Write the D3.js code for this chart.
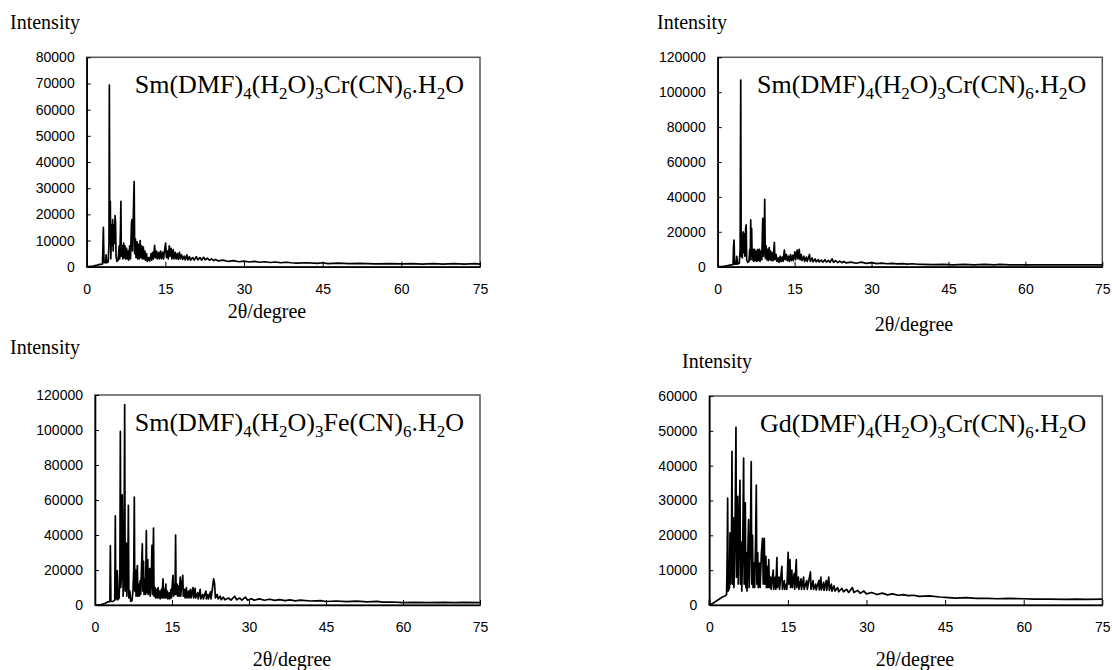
<!DOCTYPE html>
<html>
<head>
<meta charset="utf-8">
<script src="https://cdn.jsdelivr.net/npm/d3@7"></script>
<style>
body { margin: 0; background: #fff; }
svg { display: block; }
</style>
</head>
<body>
<svg id="chart" width="1112" height="670"></svg>
<script>
// 2theta axis ticks, shared by all four patterns
const thetaTicks = [0, 15, 30, 45, 60, 75]

// intensity ticks per panel
const ticksSmCrA = [0, 10000, 20000, 30000, 40000, 50000, 60000, 70000, 80000]
const ticksSmCrB = [0, 20000, 40000, 60000, 80000, 100000, 120000]
const ticksSmFe = [0, 20000, 40000, 60000, 80000, 100000, 120000]
const ticksGdCr = [0, 10000, 20000, 30000, 40000, 50000, 60000]

// titles, [text, isSubscript]
const titleSmCr = [["Sm(DMF)",0],["4",1],["(H",0],["2",1],["O)",0],["3",1],["Cr(CN)",0],["6",1],[".H",0],["2",1],["O",0]]
const titleSmFe = [["Sm(DMF)",0],["4",1],["(H",0],["2",1],["O)",0],["3",1],["Fe(CN)",0],["6",1],[".H",0],["2",1],["O",0]]
const titleGdCr = [["Gd(DMF)",0],["4",1],["(H",0],["2",1],["O)",0],["3",1],["Cr(CN)",0],["6",1],[".H",0],["2",1],["O",0]]

// patterns, [2theta, counts]
const smCrA = [[0,0],[0.5,0],[1.2,200],[2.0,600],[2.5,900],[3.0,1000],[3.1,8000],[3.18,15000],[3.3,1500],[3.6,1500],[3.7,4500],[3.8,1500],[4.1,1800],[4.25,9000],[4.32,69400],[4.4,9000],[4.5,25000],[4.6,3000],[4.75,16000],[4.85,8000],[4.95,18000],[5.05,6000],[5.2,16000],[5.3,9000],[5.4,19500],[5.5,17000],[5.6,4000],[5.75,2000],[6.0,2500],[6.2,8000],[6.3,3000],[6.45,15000],[6.52,25000],[6.6,4000],[6.8,8000],[6.9,3000],[7.05,9000],[7.15,3500],[7.3,8000],[7.4,3000],[7.6,7000],[7.7,3000],[7.9,6000],[8.0,2500],[8.2,8000],[8.35,3000],[8.55,17000],[8.65,18000],[8.75,6000],[8.9,20000],[9.05,32500],[9.15,5000],[9.3,10500],[9.4,3500],[9.6,9500],[9.7,3000],[9.9,8500],[10.0,3000],[10.2,10000],[10.3,3500],[10.5,8000],[10.6,3000],[10.8,7500],[10.9,3000],[11.1,6000],[11.2,2500],[11.4,5000],[11.55,2000],[11.8,3500],[12.0,2200],[12.3,5000],[12.4,2500],[12.6,5500],[12.75,3000],[12.95,8200],[13.1,3500],[13.3,6000],[13.45,3000],[13.7,5500],[13.85,3000],[14.1,6000],[14.25,3000],[14.5,5500],[14.65,3000],[14.9,7000],[15.05,9000],[15.2,3500],[15.4,6000],[15.55,3000],[15.75,8000],[15.9,4000],[16.1,7000],[16.25,3000],[16.5,6500],[16.65,3000],[16.9,5500],[17.05,3000],[17.3,5000],[17.45,2800],[17.7,5500],[17.85,3000],[18.1,4500],[18.3,2800],[18.6,4000],[18.8,2600],[19.1,4500],[19.3,2600],[19.6,3800],[19.8,2500],[20.2,3500],[20.5,2500],[20.9,3800],[21.2,2600],[21.6,3500],[21.9,2500],[22.3,3600],[22.6,2600],[23.0,3300],[23.4,2500],[23.8,3000],[24.2,2300],[24.6,2800],[25,2200],[26,2500],[27,2000],[28,2300],[29,1900],[30,2100],[31,1800],[32,2000],[33,1700],[34,1900],[35,1600],[36,1800],[37,1500],[38,1700],[39,1500],[40,1400],[42,1500],[44,1300],[45,1500],[46,1200],[48,1400],[50,1200],[52,1300],[55,1100],[58,1200],[60,1100],[62,1200],[64,1000],[66,1200],[68,1000],[70,1200],[72,1000],[74,1200],[75,1000]]

const smCrB = [[0,0],[0.5,0],[1.2,200],[2.0,700],[2.6,1000],[3.0,1200],[3.08,11000],[3.19,15300],[3.3,1500],[3.6,1500],[3.72,6000],[3.85,1500],[4.2,2000],[4.38,10000],[4.49,107000],[4.58,6000],[4.7,18000],[4.8,5000],[4.95,20000],[5.05,8000],[5.2,19000],[5.3,6000],[5.45,22000],[5.55,24000],[5.65,4000],[5.85,2500],[6.1,3000],[6.25,10000],[6.35,4000],[6.44,26800],[6.52,6000],[6.62,22000],[6.72,4000],[6.9,10000],[7.0,3000],[7.2,10000],[7.3,3500],[7.5,9000],[7.6,3000],[7.8,10000],[7.9,3500],[8.15,10000],[8.25,3000],[8.5,9000],[8.6,4000],[8.78,27700],[8.9,6000],[9.05,14000],[9.17,38600],[9.28,5000],[9.45,12000],[9.55,4000],[9.75,10000],[9.85,3500],[10.05,11000],[10.15,4000],[10.35,9000],[10.45,3500],[10.7,8000],[10.8,3500],[11.05,14000],[11.15,4000],[11.4,7000],[11.55,3000],[11.8,5000],[11.95,2500],[12.2,6000],[12.35,3000],[12.6,5500],[12.75,3000],[13.0,9500],[13.15,4000],[13.4,7000],[13.55,3500],[13.8,6000],[13.95,3000],[14.2,7000],[14.35,3500],[14.6,6500],[14.75,3500],[15.05,8500],[15.2,4000],[15.5,9500],[15.65,4500],[15.9,10000],[16.05,4000],[16.3,7000],[16.45,3500],[16.8,6000],[16.95,3000],[17.3,5500],[17.45,3000],[17.9,7000],[18.05,3000],[18.4,5000],[18.6,2800],[19.0,4500],[19.2,2800],[19.6,4000],[19.8,2700],[20.2,3800],[20.5,2600],[20.9,4000],[21.2,2600],[21.6,3600],[21.9,2500],[22.3,4500],[22.6,2500],[23.0,3500],[23.4,2400],[23.8,3200],[24.2,2300],[24.6,3000],[25,2200],[26,2600],[27,2000],[28,2600],[29,1900],[30,2300],[31,1800],[32,2000],[33,1700],[34,1900],[35,1600],[36,1800],[37,1500],[38,1700],[39,1400],[40,1300],[42,1200],[44,1300],[46,1100],[48,1300],[50,1100],[52,1300],[54,1000],[55,1300],[57,1100],[60,1100],[62,1000],[65,1100],[68,1000],[70,1100],[72,1000],[75,1100]]

const smFe = [[0,0],[0.5,0],[1.2,300],[2.0,1000],[2.5,1800],[2.9,2000],[2.99,33900],[3.1,2000],[3.5,2000],[3.85,3000],[3.96,51000],[4.05,3000],[4.25,5000],[4.35,19600],[4.45,3000],[4.7,4000],[4.85,20000],[4.94,99200],[5.03,10000],[5.2,20000],[5.3,63000],[5.39,40000],[5.48,5000],[5.65,20000],[5.78,114500],[5.88,8000],[6.0,30000],[6.1,35400],[6.2,5000],[6.4,20000],[6.5,57000],[6.6,4000],[6.8,8000],[6.95,2000],[7.2,2500],[7.4,8000],[7.55,20000],[7.66,61700],[7.75,8000],[7.9,20000],[8.0,5000],[8.15,15000],[8.25,22500],[8.35,5000],[8.55,12000],[8.65,5000],[8.8,14000],[8.9,6000],[9.05,20000],[9.22,34900],[9.3,8000],[9.45,25000],[9.55,6000],[9.75,15000],[9.85,6000],[10.0,42500],[10.1,7000],[10.28,26000],[10.38,6000],[10.55,12000],[10.65,20800],[10.75,5000],[10.95,15000],[11.1,34100],[11.2,6000],[11.4,44000],[11.5,5000],[11.7,10000],[11.8,4000],[12.0,9000],[12.1,4000],[12.3,10000],[12.4,4000],[12.6,8000],[12.7,3500],[12.95,9000],[13.05,4000],[13.25,14900],[13.35,4000],[13.55,9000],[13.65,4000],[13.8,12000],[13.9,4000],[14.1,8000],[14.2,3500],[14.45,7000],[14.55,3500],[14.8,9000],[14.9,4000],[15.1,14000],[15.2,17000],[15.3,5000],[15.5,12000],[15.6,6000],[15.7,40000],[15.8,6000],[16.0,12000],[16.1,5000],[16.3,11000],[16.4,5000],[16.6,16000],[16.7,5000],[16.9,12000],[17.1,17000],[17.2,5000],[17.45,9000],[17.55,4000],[17.8,10000],[17.9,4000],[18.2,8000],[18.3,4000],[18.6,9000],[18.7,4000],[19.1,10000],[19.2,4000],[19.5,9500],[19.6,4000],[20.0,7000],[20.1,3500],[20.5,9000],[20.6,3500],[21.0,6000],[21.1,3500],[21.6,8000],[21.7,3500],[22.0,6000],[22.1,3500],[22.5,7500],[22.6,3500],[22.9,10000],[23.1,15000],[23.3,12000],[23.45,4000],[23.8,6000],[24.0,3500],[24.4,5000],[24.6,3000],[25.0,4500],[25.3,3000],[26,4000],[26.5,2800],[27.2,5000],[27.6,3000],[28.2,4000],[28.6,2800],[29.3,4500],[29.7,2800],[30.5,3600],[31,2700],[32,3500],[33,2700],[34,3300],[35,2600],[36,3100],[37,2500],[38,2900],[39,2400],[40,2800],[42,2300],[44,2500],[45,2000],[47,2300],[49,1900],[51,2200],[53,1800],[55,2100],[56,1600],[58,1700],[60,1400],[62,1500],[65,1400],[68,1500],[70,1400],[72,1500],[75,1400]]

const gdCr = [[0,0],[0.05,1500],[0.1,200],[0.5,300],[1.0,800],[1.5,1300],[2.0,1800],[2.5,2300],[3.0,2600],[3.3,3000],[3.42,15000],[3.5,30700],[3.6,4000],[3.85,5000],[3.95,20700],[4.05,6000],[4.22,15000],[4.33,44100],[4.42,6000],[4.52,18000],[4.6,25000],[4.7,5000],[4.9,20000],[5.09,51000],[5.18,8000],[5.3,30000],[5.42,31200],[5.52,6000],[5.7,22000],[5.85,35800],[5.95,6000],[6.1,18000],[6.2,4000],[6.4,20000],[6.55,42200],[6.65,6000],[6.8,22000],[6.87,29300],[6.97,5000],[7.1,15000],[7.2,4000],[7.4,18000],[7.5,24500],[7.6,5000],[7.85,20000],[8.0,41200],[8.1,6000],[8.25,20000],[8.35,5000],[8.55,12000],[8.65,5000],[8.85,20000],[8.97,34400],[9.07,6000],[9.25,15000],[9.35,5000],[9.6,12000],[9.7,5000],[9.95,15000],[10.15,19100],[10.3,6000],[10.5,19100],[10.6,6000],[10.8,14000],[10.9,5000],[11.05,11000],[11.15,5000],[11.35,13000],[11.45,5000],[11.7,8000],[11.8,4500],[12.2,10000],[12.3,4500],[12.6,8000],[12.7,4500],[12.9,13600],[13.0,5000],[13.3,8000],[13.4,4500],[13.85,11100],[13.95,4500],[14.3,7000],[14.4,4500],[14.7,6000],[14.8,4500],[15.05,15100],[15.15,6000],[15.4,13000],[15.5,5000],[15.75,10000],[15.85,5000],[16.2,9000],[16.3,4500],[16.6,13000],[16.7,5000],[17.0,8000],[17.1,4500],[17.5,7500],[17.6,4500],[18.0,8000],[18.1,4500],[18.6,7000],[18.7,4500],[19.3,9500],[19.4,4500],[19.8,7000],[19.9,4500],[20.3,6000],[20.4,4300],[20.9,7000],[21.0,4300],[21.3,8000],[21.4,4300],[21.8,6500],[21.9,4200],[22.3,7000],[22.4,4200],[22.8,8000],[22.9,4200],[23.3,6000],[23.4,4000],[23.8,5500],[24.0,4000],[24.5,5000],[24.7,3800],[25.3,4800],[25.6,3800],[26.2,4500],[26.6,3600],[27.3,5000],[27.6,3600],[28.3,4200],[28.8,3400],[29.5,4000],[30,3200],[31,3600],[32,3000],[33,3400],[34,2900],[35,3200],[36,2800],[37,3000],[38,2700],[39,2800],[40,2500],[42,2600],[44,2300],[45,2200],[47,2000],[49,2100],[51,1900],[53,1900],[55,1800],[57,1900],[60,1800],[62,1700],[65,1700],[68,1600],[70,1700],[72,1600],[75,1700]]

const svg = d3.select("#chart")

const panels = [
	{data: smCrA, ticks: ticksSmCrA, title: titleSmCr, left: 86.7, right: 480, top: 57.3, bottom: 266.7,
	 yLabelX: 10, yLabelY: 29, xLabelX: 267, xLabelY: 318},
	{data: smCrB, ticks: ticksSmCrB, title: titleSmCr, left: 717.7, right: 1102.3, top: 57.3, bottom: 266.7,
	 yLabelX: 657, yLabelY: 29, xLabelX: 914, xLabelY: 331},
	{data: smFe, ticks: ticksSmFe, title: titleSmFe, left: 95, right: 480, top: 395, bottom: 605,
	 yLabelX: 10, yLabelY: 354, xLabelX: 292, xLabelY: 666},
	{data: gdCr, ticks: ticksGdCr, title: titleGdCr, left: 709.3, right: 1102.3, top: 396, bottom: 605,
	 yLabelX: 682, yLabelY: 368, xLabelX: 915, xLabelY: 666}
]

function drawPanel(p) {
	const x = d3.scaleLinear().domain([0, 75]).range([p.left, p.right])
	const y = d3.scaleLinear().domain([0, d3.max(p.ticks)]).range([p.bottom, p.top])

	// plot area frame
	svg.append("rect")
		.attr("x", p.left)
		.attr("y", p.top)
		.attr("width", p.right - p.left)
		.attr("height", p.bottom - p.top)
		.attr("fill", "none")
		.attr("stroke", "#555")
		.attr("stroke-width", 1.5)

	const line = d3.line()
		.x(function(d) { return x(d[0]); })
		.y(function(d) { return y(d[1]); })

	svg.append("path")
		.datum(p.data)
		.attr("d", line)
		.attr("fill", "none")
		.attr("stroke", "#000")
		.attr("stroke-width", 1.7)
		.attr("stroke-linejoin", "round")

	const gx = svg.append("g")
		.attr("transform", "translate(0," + p.bottom + ")")
		.call(d3.axisBottom(x).tickValues(thetaTicks).tickSizeInner(-5).tickSizeOuter(0).tickPadding(17))
	const gy = svg.append("g")
		.attr("transform", "translate(" + p.left + ",0)")
		.call(d3.axisLeft(y).tickValues(p.ticks).tickFormat(d3.format("d")).tickSizeInner(-4).tickSizeOuter(0).tickPadding(12))

	;[gx, gy].forEach(function(g) {
		g.select(".domain").attr("stroke", "#000").attr("stroke-width", 1.6)
		g.selectAll(".tick line").attr("stroke", "#000").attr("stroke-width", 1)
		g.selectAll(".tick text")
			.attr("fill", "#000")
			.style("font-family", "'Liberation Sans', Arial, sans-serif")
			.style("font-size", "14px")
	})

	svg.append("text")
		.attr("x", p.yLabelX)
		.attr("y", p.yLabelY)
		.style("font-family", "'Liberation Serif', 'Times New Roman', serif")
		.style("font-size", "20px")
		.text("Intensity")

	svg.append("text")
		.attr("x", p.xLabelX)
		.attr("y", p.xLabelY)
		.attr("text-anchor", "middle")
		.style("font-family", "'Liberation Serif', 'Times New Roman', serif")
		.style("font-size", "20px")
		.text("2θ/degree")

	// compound name with subscripts
	const t = svg.append("text")
		.attr("x", p.right - 16)
		.attr("y", p.top + 36)
		.attr("text-anchor", "end")
		.style("font-family", "'Liberation Serif', 'Times New Roman', serif")
		.style("font-size", "26px")
	let shifted = false
	p.title.forEach(function(part) {
		const sub = part[1] === 1
		let dy = 0
		if (sub && !shifted) { dy = 6; shifted = true }
		else if (!sub && shifted) { dy = -6; shifted = false }
		t.append("tspan")
			.attr("dy", dy)
			.style("font-size", sub ? "17px" : "26px")
			.text(part[0])
	})
}

panels.forEach(drawPanel)
</script>
</body>
</html>
